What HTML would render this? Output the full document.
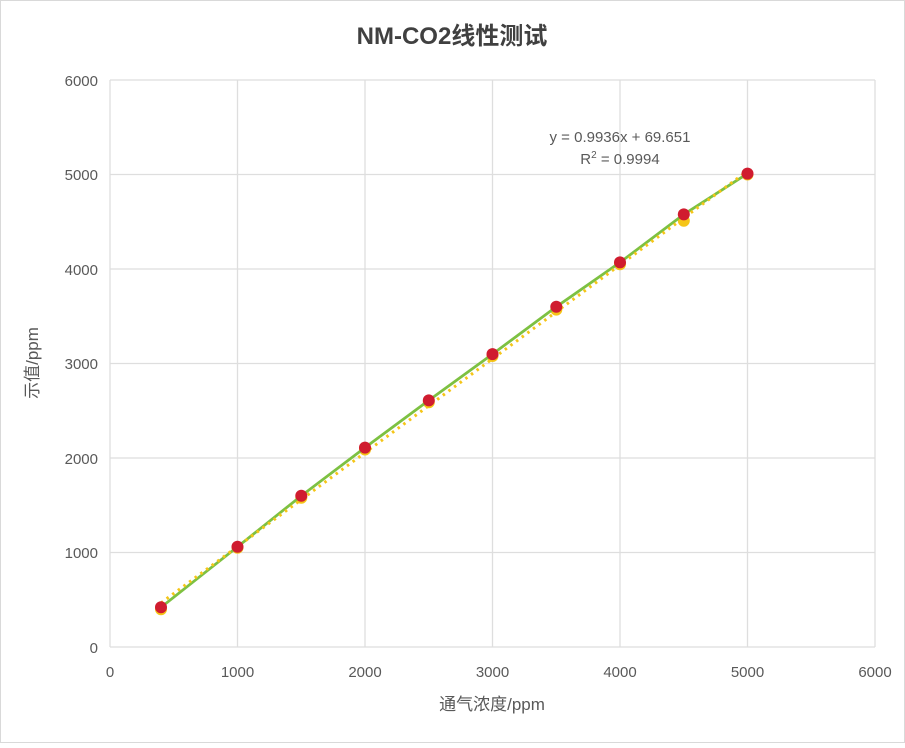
<!DOCTYPE html>
<html><head><meta charset="utf-8"><style>body{margin:0;background:#fff}</style></head><body>
<svg width="905" height="743" xmlns="http://www.w3.org/2000/svg" font-family="Liberation Sans, Noto Sans CJK SC, sans-serif">
<rect x="0.5" y="0.5" width="904" height="742" fill="#fff" stroke="#d9d9d9"/>
<text x="452" y="44" text-anchor="middle" font-size="24" font-weight="bold" fill="#404040">NM-CO2线性测试</text>
<g stroke="#dedede" stroke-width="1.3">
<line x1="110" y1="80" x2="875" y2="80"/><line x1="110" y1="174.5" x2="875" y2="174.5"/><line x1="110" y1="269" x2="875" y2="269"/><line x1="110" y1="363.5" x2="875" y2="363.5"/><line x1="110" y1="458" x2="875" y2="458"/><line x1="110" y1="552.5" x2="875" y2="552.5"/><line x1="110" y1="647" x2="875" y2="647"/>
<line x1="110" y1="80" x2="110" y2="647"/><line x1="237.5" y1="80" x2="237.5" y2="647"/><line x1="365" y1="80" x2="365" y2="647"/><line x1="492.5" y1="80" x2="492.5" y2="647"/><line x1="620" y1="80" x2="620" y2="647"/><line x1="747.5" y1="80" x2="747.5" y2="647"/><line x1="875" y1="80" x2="875" y2="647"/>
</g>
<g font-size="15" fill="#595959" text-anchor="end">
<text x="98" y="86">6000</text><text x="98" y="180">5000</text><text x="98" y="275">4000</text><text x="98" y="369">3000</text><text x="98" y="464">2000</text><text x="98" y="558">1000</text><text x="98" y="653">0</text>
</g>
<g font-size="15" fill="#595959" text-anchor="middle">
<text x="110" y="677">0</text><text x="237.5" y="677">1000</text><text x="365" y="677">2000</text><text x="492.5" y="677">3000</text><text x="620" y="677">4000</text><text x="747.5" y="677">5000</text><text x="875" y="677">6000</text>
</g>
<text x="492" y="710" text-anchor="middle" font-size="17" fill="#595959">通气浓度/ppm</text>
<text transform="translate(38,363) rotate(-90)" text-anchor="middle" font-size="17" fill="#595959">示值/ppm</text>
<text x="620" y="142" text-anchor="middle" font-size="15" fill="#595959">y = 0.9936x + 69.651</text>
<text x="620" y="164" text-anchor="middle" font-size="15" fill="#595959">R<tspan font-size="10" dy="-6">2</tspan><tspan dy="6"> = 0.9994</tspan></text>
<g fill="#f5c518">
<circle cx="161" cy="609.2" r="6"/><circle cx="237.5" cy="547.8" r="6"/><circle cx="301.3" cy="497.7" r="6"/><circle cx="365" cy="449.5" r="6"/><circle cx="428.8" cy="402.2" r="6"/><circle cx="492.5" cy="356" r="6"/><circle cx="556.3" cy="309.6" r="6"/><circle cx="620" cy="264.3" r="6"/><circle cx="683.8" cy="220.8" r="6"/><circle cx="747.5" cy="174.5" r="6"/>
</g>
<polyline fill="none" stroke="#7dc142" stroke-width="2.8" points="161,607.3 237.5,546.8 301.3,495.8 365,447.6 428.8,400.4 492.5,354.1 556.3,306.8 620,262.4 683.8,214.4 747.5,173.6"/>
<line x1="161" y1="602.9" x2="747.5" y2="171" stroke="#f5c518" stroke-width="3" stroke-dasharray="2.5 4.5"/>
<g fill="#d01c2f">
<circle cx="161" cy="607.3" r="6"/><circle cx="237.5" cy="546.8" r="6"/><circle cx="301.3" cy="495.8" r="6"/><circle cx="365" cy="447.6" r="6"/><circle cx="428.8" cy="400.4" r="6"/><circle cx="492.5" cy="354.1" r="6"/><circle cx="556.3" cy="306.8" r="6"/><circle cx="620" cy="262.4" r="6"/><circle cx="683.8" cy="214.4" r="6"/><circle cx="747.5" cy="173.6" r="6"/>
</g>
</svg>
</body></html>
